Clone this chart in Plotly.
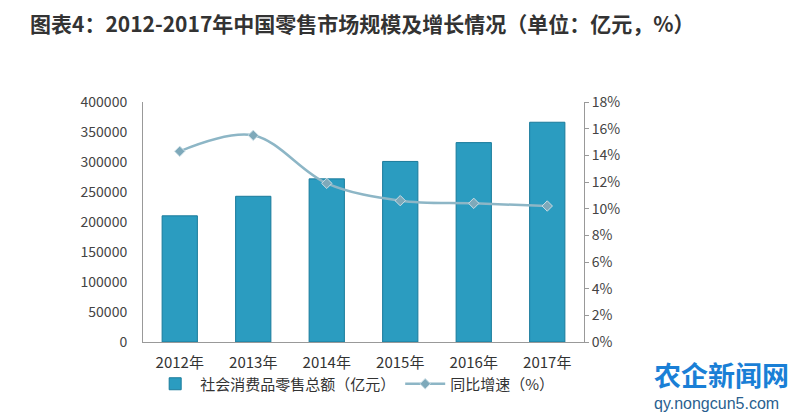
import plotly.graph_objects as go

years = ["2012年", "2013年", "2014年", "2015年", "2016年", "2017年"]
retail = [210307, 242843, 271896, 300931, 332316, 366262]
growth = [14.3, 15.5, 11.9, 10.6, 10.4, 10.2]
left_ticks = [0, 50000, 100000, 150000, 200000, 250000, 300000, 350000, 400000]
right_ticks = [0, 2, 4, 6, 8, 10, 12, 14, 16, 18]

title = "图表4：2012-2017年中国零售市场规模及增长情况（单位：亿元，%）"
font = "Microsoft YaHei, Noto Sans CJK SC, sans-serif"

fig = go.Figure()
fig.add_trace(go.Bar(
    x=years, y=retail, name="社会消费品零售总额（亿元）",
    marker=dict(color="#2b9cc0", line=dict(color="#1a7b9b", width=1)),
    width=0.48,
))
fig.add_trace(go.Scatter(
    x=years, y=growth, name="同比增速（%）", yaxis="y2",
    mode="lines+markers",
    line=dict(color="#8db6c6", width=2.5, shape="spline", smoothing=1.0),
    marker=dict(symbol="diamond", size=8, color="#7ea9ba", line=dict(color="#c9dde5", width=1)),
))

fig.update_layout(
    width=792, height=412,
    margin=dict(l=135, r=216, t=94, b=78, autoexpand=False),
    paper_bgcolor="white", plot_bgcolor="white",
    font=dict(family=font, size=13, color="#333333"),
    showlegend=True,
    legend=dict(orientation="h", x=0.48, xanchor="center", y=-(384 - 342) / 240, yanchor="middle",
                bgcolor="rgba(0,0,0,0)",
                font=dict(size=15, color="#333333"), itemwidth=40, tracegroupgap=30),
    xaxis=dict(showline=True, linecolor="#999999", linewidth=1, ticks="outside",
               ticklen=7, tickcolor="rgba(0,0,0,0)",
               tickfont=dict(size=15, color="#333333"), showgrid=False, automargin=False),
    yaxis=dict(range=[0, 400000], tickvals=left_ticks, ticktext=[str(v) for v in left_ticks],
               showline=True, linecolor="#999999", linewidth=1, showgrid=False,
               ticks="outside", ticklen=12, tickcolor="rgba(0,0,0,0)", automargin=False,
               tickfont=dict(size=14, color="#444444")),
    yaxis2=dict(range=[0, 18], tickvals=right_ticks, ticktext=[f"{v}%" for v in right_ticks],
                overlaying="y", side="right", showline=True, linecolor="#999999",
                linewidth=1, ticks="outside", ticklen=4, tickcolor="#999999",
                showgrid=False, automargin=False, tickfont=dict(size=14, color="#444444")),
    bargap=0.5,
)

fig.add_annotation(text="<b>" + title + "</b>", xref="paper", yref="paper",
                   x=(28 - 143) / 441, y=1 + (102 - 23) / 240, xanchor="left", yanchor="middle",
                   showarrow=False, font=dict(size=21, color="#333333", family=font))
fig.add_annotation(text="<b>农企新闻网</b>", xref="paper", yref="paper",
                   x=(652 - 143) / 441, y=-(374 - 342) / 240, xanchor="left", yanchor="middle",
                   showarrow=False, font=dict(size=27, color="#1a7fd6", family=font))
fig.add_annotation(text="qy.nongcun5.com", xref="paper", yref="paper",
                   x=(652 - 143) / 441, y=-(403 - 342) / 240, xanchor="left", yanchor="middle",
                   showarrow=False, font=dict(size=16, color="#2a5f8f", family="Liberation Sans, sans-serif"))

fig.write_html("out.html")
